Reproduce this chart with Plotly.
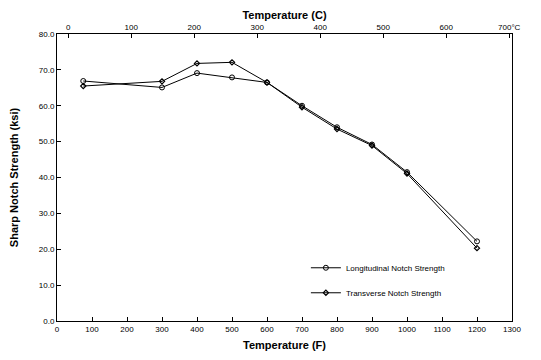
import plotly.graph_objects as go

temp_f = [75, 300, 400, 500, 600, 700, 800, 900, 1000, 1200]
longitudinal = [66.9, 65.1, 69.1, 67.9, 66.5, 60.0, 54.0, 49.2, 41.5, 22.2]
transverse = [65.5, 66.8, 71.8, 72.1, 66.5, 59.6, 53.5, 48.9, 41.1, 20.3]

f_ticks = list(range(0, 1301, 100))
c_ticks = list(range(0, 701, 100))
c_labels = [str(c) for c in c_ticks[:-1]] + ["700°C"]
y_ticks = list(range(0, 81, 10))
y_labels = [f"{v:.1f}" for v in y_ticks]

f_range = [0, 1300]
c_range = [(f_range[0] - 32) / 1.8, (f_range[1] - 32) / 1.8]

narrow = "Liberation Sans Narrow, Arial Narrow, Liberation Sans, sans-serif"
bold = "Liberation Sans, Arial, sans-serif"

fig = go.Figure()
fig.add_trace(go.Scatter(
    x=temp_f, y=longitudinal, mode="lines+markers",
    name="Longitudinal Notch Strength", legendgroup="a",
    line=dict(color="black", width=1),
    marker=dict(symbol="circle-open", size=5, color="black", line=dict(width=1)),
))
fig.add_trace(go.Scatter(
    x=temp_f, y=transverse, mode="lines+markers",
    name="Transverse Notch Strength", legendgroup="b",
    line=dict(color="black", width=1),
    marker=dict(symbol="diamond-open", size=4, color="black", line=dict(width=1.2)),
))
# invisible trace to drive the top Celsius axis
fig.add_trace(go.Scatter(x=c_range, y=[0, 0], xaxis="x2", mode="lines",
                         line=dict(width=0), showlegend=False, hoverinfo="skip"))

# page has an 8px body margin, so the figure is sized/placed to compensate
fig.update_layout(
    width=533, height=352,
    margin=dict(l=49, r=29, t=26, b=39),
    paper_bgcolor="white", plot_bgcolor="white",
    font=dict(family=narrow, size=8, color="black"),
    showlegend=True,
    legend=dict(x=0.547, y=0.236, xanchor="left", yanchor="top",
                bgcolor="rgba(0,0,0,0)", font=dict(family=narrow, size=8),
                traceorder="grouped", tracegroupgap=6, itemwidth=30),
    xaxis=dict(
        range=f_range, tickmode="array", tickvals=f_ticks, automargin=False,
        ticks="inside", ticklen=4, tickcolor="black",
        showline=True, linecolor="black", linewidth=1, showgrid=False, zeroline=False,
        tickfont=dict(family=narrow, size=8),
        title=dict(text="<b>Temperature (F)</b>", font=dict(family=bold, size=11), standoff=8),
    ),
    xaxis2=dict(
        overlaying="x", side="top", range=c_range, tickmode="array", automargin=False,
        tickvals=c_ticks, ticktext=c_labels,
        ticks="inside", ticklen=4, tickcolor="black",
        showline=True, linecolor="black", linewidth=1, showgrid=False, zeroline=False,
        tickfont=dict(family=narrow, size=8),
        title=dict(text="<b>Temperature (C)</b>", font=dict(family=bold, size=11), standoff=0),
    ),
    yaxis=dict(
        range=[0, 80], tickmode="array", tickvals=y_ticks, ticktext=y_labels, automargin=False,
        ticks="inside", ticklen=4, tickcolor="black",
        showline=True, mirror=True, linecolor="black", linewidth=1,
        showgrid=False, zeroline=False,
        tickfont=dict(family=narrow, size=8),
        title=dict(text="<b>Sharp Notch Strength (ksi)</b>", font=dict(family=bold, size=11), standoff=22),
    ),
)

fig.write_html("out.html")
